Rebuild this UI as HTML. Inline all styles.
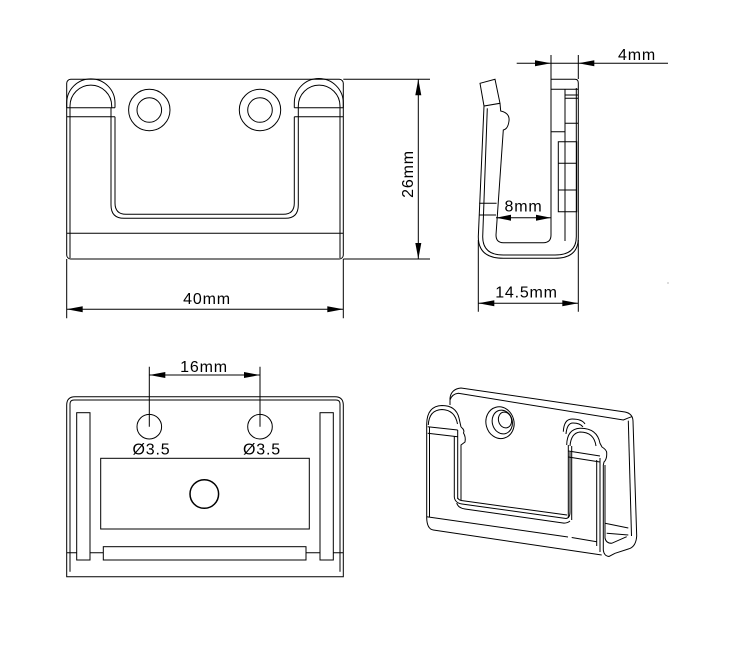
<!DOCTYPE html>
<html><head><meta charset="utf-8"><style>
html,body{margin:0;padding:0;background:#fff;}
svg{display:block;}
text{font-family:"Liberation Sans",sans-serif;font-size:16px;fill:#000;letter-spacing:0.8px;}
</style></head><body>
<svg width="731" height="648" viewBox="0 0 731 648" xmlns="http://www.w3.org/2000/svg">
<g fill="none" stroke="#000" stroke-width="1">
<!-- FRONT VIEW -->
<rect x="66.7" y="79.3" width="276.6" height="179.7" rx="4"/>
<path d="M66.7,107.7 V103 A24.15,24.15 0 0 1 115,103 V107.7"/>
<path d="M70,107.7 V106 A20.85,20.85 0 0 1 111.7,106 V107.7"/>
<path d="M294.3,107.7 V103 A24.5,24.5 0 0 1 343.3,103 V107.7"/>
<path d="M298.3,107.7 V106 A20.85,20.85 0 0 1 340,106 V107.7"/>
<path d="M66.7,107.7 H115 M66.7,116.7 H115 M294.3,107.7 H343.3 M294.3,116.7 H343.3"/>
<path d="M70,107.7 V258 M340,107.7 V258"/>
<path d="M111,107.7 V205 Q111,218.3 124,218.3 H285.3 Q298.3,218.3 298.3,205 V107.7"/>
<path d="M115,116.7 V203 Q115,214.3 126,214.3 H283.3 Q294.3,214.3 294.3,203 V116.7"/>
<path d="M66.7,233.3 H343.3"/>
<circle cx="149.3" cy="110" r="20.7"/><circle cx="149.3" cy="110" r="12.3"/>
<circle cx="260" cy="110" r="20.7"/><circle cx="260" cy="110" r="12.3"/>
<!-- front dims -->
<path d="M66.7,259 V318.3 M343.3,259 V318.3 M66.7,309.3 H343.3"/>
<path d="M343.3,79.3 H430 M343.3,259 H430 M418.3,79.3 V259"/>

<!-- SIDE VIEW -->
<path d="M516.7,63.3 H668 M551,55 V79 M578.3,55 V79"/>
<path d="M551,235 V79.3 H575 Q578.3,79.3 578.3,83 V238 Q578.3,258.3 555,258.3 H503.3 Q478.3,258.3 478.3,236.7 L484,106"/>
<path d="M487.3,108.3 L482.7,236.7 Q482.7,255 503.3,255 H555 Q576.3,255 576.3,236.7 V88"/>
<path d="M480,83.3 L495,79.3 L500,103.3 L484,106 Z"/>
<path d="M500,103.3 L500.7,111 Q510,113 509,121 Q508,129 503.3,130 L496,235 Q496,242.7 503.3,242.7 H543.3 Q551,242.7 551,235"/>
<path d="M479.2,203.3 H496.6 M479,215 H496"/>
<path d="M551,89.3 H578.3 M565,89.3 V241 M551,131.7 H565 M565,95 H578.3 M565,98.3 H578.3 M565,123.3 H578.3"/>
<path d="M558.3,141.7 H576.7 V211.7 H558.3 Z M558.3,163.3 H576.7 M558.3,190 H576.7"/>
<path d="M496,217.7 H551"/>
<path d="M478.3,240 V311.7 M578.3,240 V311.7 M478.3,303.3 H578.3"/>

<!-- BOTTOM-LEFT VIEW -->
<path d="M66.7,576.7 V405 Q66.7,396.7 75,396.7 H335 Q343.3,396.7 343.3,405 V576.7 Z"/>
<path d="M70,571.7 V404 Q70,400 74,400 H336 Q340,400 340,404 V571.7"/>
<path d="M66.7,552.7 H343.3"/>
<rect x="76.7" y="412.7" width="13.3" height="147.3" fill="#fff"/>
<rect x="320" y="412.7" width="13.3" height="147.3" fill="#fff"/>
<rect x="103.3" y="546.7" width="202.7" height="13.3" fill="#fff"/>
<circle cx="149.3" cy="426.7" r="12.3"/><circle cx="260" cy="426.7" r="12.3"/>
<rect x="100.7" y="458.3" width="208.6" height="70.7"/>
<circle cx="204.3" cy="494" r="14.3" stroke-width="1.5"/>
<path d="M149.3,366.7 V426.7 M260,366.7 V426.7 M149.3,375 H260"/>

<!-- ISO VIEW -->
<path d="M450,405 V398.3 Q451,389 461,388 L625,412 Q632.7,413.5 633,421 L636.7,536 Q636,547 628.3,549 L615,553.3"/>
<path d="M450,400 Q452,394 458.3,393.3 L623.3,420 Q628,418 631.7,416.7"/>
<path d="M628.3,420.7 L631.5,536"/>
<path d="M426.7,518 V424 Q427,406 442,405.5 Q456,405.5 459,418 L461,427"/>
<path d="M428.3,425 Q429,410 442,409.5 Q455,410 457.5,424"/>
<path d="M427.7,426.7 L457.7,430 M427.7,433.3 L457.7,436.7"/>
<path d="M429.5,426.7 V517"/>
<path d="M461,427 Q465,430 463.5,433 Q466,437 465,442 L461,445 V500"/>
<path d="M457.7,430 V499 M454.3,436 V497"/>
<path d="M454.3,497 Q455,503 462,504 L566,518.5 Q570,518 570,512 V452"/>
<path d="M457.7,498 Q459,500.5 463,500.8 L567,515"/>
<path d="M456.7,503 Q458,508 465,509 L563,523 Q567,523.5 570,521"/>
<path d="M566.7,445 Q567,429 580,428.3 Q597,428 600,443.3 L602,447 Q607,450 606.7,453.3 Q607,459 604,462 L603.3,465 V550 Q604,556 609,556.5 L615,553.3"/>
<path d="M570,446 Q571,433 580,432 Q594,432 596,446"/>
<path d="M568.3,451 L600,456 M568.3,457 L600,462"/>
<path d="M568.3,445 V518 M571.7,446 V520 M596.7,460 V546 M600,458 V552"/>
<path d="M563.3,431.7 Q564,419 572,419 Q582,419 585,424 M566,434 Q567,423 573,423 Q580,423 583,427"/>
<path d="M426.7,516.7 L568,537 M571.7,537.5 L596.7,541.7"/>
<path d="M426.7,518 Q427,529 433.3,530 L601.7,555"/>
<path d="M605,523.3 L628.3,528 M606.7,533.3 L628.3,535 M605,465 V538 Q606,543.3 611.7,543.3 L626.7,536.7"/>
<ellipse cx="500" cy="422.7" rx="14" ry="16" transform="rotate(-15 500 422.7)"/>
<ellipse cx="502.3" cy="422" rx="10" ry="12" transform="rotate(-15 502.3 422)"/>
<ellipse cx="505" cy="420" rx="6.5" ry="8" transform="rotate(-15 505 420)"/>
</g>

<!-- arrowheads -->
<g fill="#000" stroke="none">
<polygon points="66.7,309.3 82.7,306.3 82.7,312.3"/>
<polygon points="343.3,309.3 327.3,306.3 327.3,312.3"/>
<polygon points="418.3,79.3 415.3,95.3 421.3,95.3"/>
<polygon points="418.3,259 415.3,243 421.3,243"/>
<polygon points="551,63.3 535,60.3 535,66.3"/>
<polygon points="578.3,63.3 594.3,60.3 594.3,66.3"/>
<polygon points="496,217.7 511,214.7 511,220.7"/>
<polygon points="551,217.7 536,214.7 536,220.7"/>
<polygon points="478.3,303.3 494.3,300.3 494.3,306.3"/>
<polygon points="578.3,303.3 562.3,300.3 562.3,306.3"/>
<polygon points="149.3,375 165.3,372 165.3,378"/>
<polygon points="260,375 244,372 244,378"/>
<circle cx="668" cy="283" r="0.6" fill="#888"/>
</g>

<!-- labels -->
<text x="207" y="304" text-anchor="middle">40mm</text>
<text transform="translate(413,174) rotate(-90)" text-anchor="middle">26mm</text>
<text x="637" y="60" text-anchor="middle">4mm</text>
<text x="523.5" y="211.7" text-anchor="middle">8mm</text>
<text x="526.5" y="297.3" text-anchor="middle">14.5mm</text>
<text x="204" y="372" text-anchor="middle">16mm</text>
<text x="151.5" y="454.3" text-anchor="middle">Ø3.5</text>
<text x="262" y="454.3" text-anchor="middle">Ø3.5</text>
</svg>
</body></html>
